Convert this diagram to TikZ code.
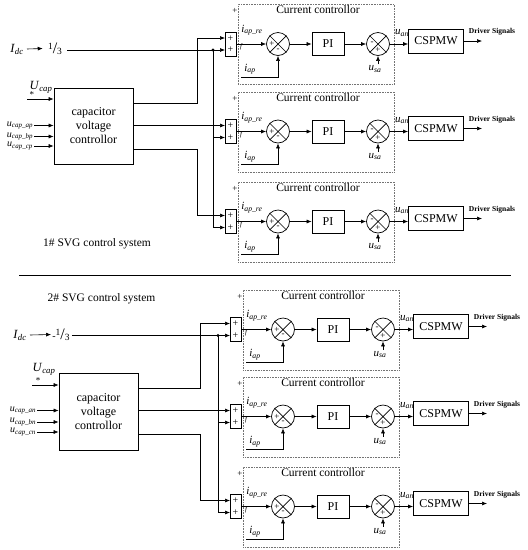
\documentclass[tikz,border=0pt]{standalone}
\usepackage{fontspec}
\setmainfont{Liberation Serif}
\usetikzlibrary{arrows.meta}
\newcommand\lab[2]{\textit{#1}\textsubscript{\textit{#2}}}
\newcommand\myThird{\raisebox{0.38em}{\fontsize{9.5}{9.5}\selectfont 1}{\fontsize{16}{16}\selectfont /}\raisebox{-0.1em}{\fontsize{9.5}{9.5}\selectfont 3}}
\tikzset{
 ar/.style={-{Latex[length=5pt,width=4pt]}},
 ccbox/.style={draw=black!55, densely dotted, line width=0.6pt, inner sep=0pt, minimum width=156pt, minimum height=80pt},
 blk/.style={draw, line width=0.7pt, inner sep=0pt},
 sumblk/.style={blk, minimum width=11pt, minimum height=24pt, align=center, font=\fontsize{10}{11.5}\selectfont},
 sj/.style={draw, circle, line width=0.7pt, minimum size=23pt, inner sep=0pt},
 pib/.style={blk, minimum width=32pt, minimum height=23pt, font=\fontsize{12}{14}\selectfont},
 csb/.style={blk, minimum width=55pt, minimum height=24pt, font=\fontsize{12}{14}\selectfont},
 capb/.style={blk, minimum width=79pt, minimum height=76pt, align=center, font=\fontsize{12}{14}\selectfont},
 ttl/.style={font=\fontsize{11.5}{13}\selectfont, inner sep=0pt},
 lbl/.style={font=\fontsize{11}{12}\selectfont, inner sep=1pt},
 slbl/.style={font=\fontsize{10}{11}\selectfont, inner sep=1pt},
 big/.style={font=\fontsize{12.5}{14}\selectfont, inner sep=1pt},
 sgn/.style={font=\fontsize{9}{10}\selectfont, inner sep=0pt},
 tinyf/.style={font=\fontsize{7}{8}\selectfont\itshape, inner sep=0pt},
 drv/.style={font=\bfseries\fontsize{7.5}{9}\selectfont, inner sep=0pt},
 sys/.style={font=\fontsize{11.5}{13}\selectfont, inner sep=0pt},
}
\newcommand\ccunit[3]{%
 \node[ccbox, anchor=north west] (#1box) at (#2,#3-40) {};
 \node[ttl] (#1title) at (#2+80,#3-34) {Current controllor};
 \node[sgn] (#1plus) at (#2-3,#3-33) {+};
 \node[sumblk] (#1sum) at (#2-7.5,#3) {+\\+};
 \coordinate (#1in1) at (#2-13,#3-6);
 \coordinate (#1in2) at (#2-13,#3+6);
 \node[sj] (#1c1) at (#2+40,#3) {};
 \draw[line width=0.7pt] (#1c1.north west) -- (#1c1.south east) (#1c1.north east) -- (#1c1.south west);
 \node[sgn] (#1c1l) at (#2+34,#3) {+};
 \node[sgn] (#1c1b) at (#2+40,#3+6) {-};
 \node[pib] (#1pi) at (#2+90,#3) {PI};
 \node[sj] (#1c2) at (#2+140,#3) {};
 \draw[line width=0.7pt] (#1c2.north west) -- (#1c2.south east) (#1c2.north east) -- (#1c2.south west);
 \node[sgn] (#1c2l) at (#2+134,#3-1) {-};
 \node[sgn] (#1c2b) at (#2+140,#3+6) {+};
 \node[csb] (#1cs) at (#2+198,#3-3) {CSPMW};
 \coordinate (#1out) at (#2+244,#3-3);
 \node[lbl] (#1ire) at (#2+14,#3-14) {\lab{i}{ap\_re}};
 \node[tinyf] (#1f) at (#2+3,#3+3) {f};
 \node[lbl] (#1iap) at (#2+12,#3+25) {\lab{i}{ap}};
 \coordinate (#1ia) at (#2+3,#3+33);
 \node[lbl] (#1usa) at (#2+137,#3+25) {\lab{u}{sa}};
 \node[lbl] (#1uan) at (#2+164,#3-11) {\lab{u}{an}};
 \node[drv] (#1drv) at (#2+254,#3-12) {Driver Signals};
 \draw[ar] (#1sum.east) -- (#1c1.west);
 \draw[ar] (#1c1.east) -- (#1pi.west);
 \draw[ar] (#1pi.east) -- (#1c2.west);
 \draw[ar] (#1c2.east) -- (#1c2.east -| #1cs.west);
 \draw[ar] (#1cs.east) -- (#1out);
 \draw[ar] (#1ia) -| (#1c1.south);
 \draw[ar] (#1usa.north -| #1c2) -- (#1c2.south);
}
\begin{document}
\begin{tikzpicture}[x=1pt,y=-1pt,line width=0.6pt]
\useasboundingbox (0,0) rectangle (528,550);
% ---------- top system ----------
\ccunit{a}{238}{44}
\ccunit{b}{238}{131.5}
\ccunit{c}{238}{221.5}
\node[capb] (capA) at (93.5,126) {capacitor\\voltage\\controllor};
\node[big] (idcA) at (17,49) {\lab{I}{dc}};
\node[inner sep=0pt] (thA) at (55,48.5) {\myThird};
\draw[ar] ([xshift=2pt]idcA.east) -- ([xshift=-5pt]thA.west);
\coordinate (dotA) at (213,50);
\draw[ar] ([xshift=5pt]thA.east |- ain2) -- (ain2);
\fill (dotA) circle (1.7pt);
\draw[ar] (dotA) |- (bin2);
\draw[ar] (dotA) |- (cin2);
\coordinate (ka1) at (197,103);
\coordinate (ka3) at (197,149);
\draw[ar] (capA.east |- ka1) -- (ka1) |- (ain1);
\draw[ar] (capA.east |- bin1) -- (bin1);
\draw[ar] (capA.east |- ka3) -- (ka3) |- (cin1);
\node[big] (ucA) at (41,87) {\lab{U}{cap}};
\node[sgn] (stA) at (32,95) {*};
\coordinate (usA) at (27,99);
\draw[ar] (usA) -- (usA -| capA.west);
\node[slbl] (uaA) at (20,125.5) {\lab{u}{cap\_ap}};
\node[slbl] (ubA) at (20,136.5) {\lab{u}{cap\_bp}};
\node[slbl] (ucpA) at (20,146) {\lab{u}{cap\_cp}};
\draw[ar] (uaA.east) -- (uaA.east -| capA.west);
\draw[ar] (ubA.east) -- (ubA.east -| capA.west);
\draw[ar] (ucpA.east) -- (ucpA.east -| capA.west);
\node[sys] (sys1) at (97,244) {1\# SVG control system};
% ---------- separator ----------
\coordinate (sepL) at (19,275);
\coordinate (sepR) at (511,275);
\draw[line width=0.8pt] (sepL) -- (sepR);
% ---------- bottom system ----------
\node[sys] (sys2) at (101.5,299) {2\# SVG control system};
\ccunit{d}{243}{329.5}
\ccunit{e}{243}{416.5}
\ccunit{f}{243}{506.5}
\node[capb, minimum height=77pt] (capB) at (98.5,411.5) {capacitor\\voltage\\controllor};
\node[big] (idcB) at (20,335) {\lab{I}{dc}};
\node[inner sep=0pt] (thB) at (61,334.5) {-\myThird};
\draw[ar] ([xshift=2pt]idcB.east) -- ([xshift=-1pt]thB.west);
\coordinate (dotB) at (218,335.5);
\draw[ar] ([xshift=2pt]thB.east |- din2) -- (din2);
\fill (dotB) circle (1.7pt);
\draw[ar] (dotB) |- (ein2);
\draw[ar] (dotB) |- (fin2);
\coordinate (kb1) at (200,388);
\coordinate (kb3) at (200,434);
\draw[ar] (capB.east |- kb1) -- (kb1) |- (din1);
\draw[ar] (capB.east |- ein1) -- (ein1);
\draw[ar] (capB.east |- kb3) -- (kb3) |- (fin1);
\node[big] (ucB) at (44,369) {\lab{U}{cap}};
\node[sgn] (stB) at (38,381) {*};
\coordinate (usB) at (32,385);
\draw[ar] (usB) -- (usB -| capB.west);
\node[slbl] (uaB) at (23,410.5) {\lab{u}{cap\_an}};
\node[slbl] (ubB) at (23,422) {\lab{u}{cap\_bn}};
\node[slbl] (ucnB) at (23,432) {\lab{u}{cap\_cn}};
\draw[ar] (uaB.east) -- (uaB.east -| capB.west);
\draw[ar] (ubB.east) -- (ubB.east -| capB.west);
\draw[ar] (ucnB.east) -- (ucnB.east -| capB.west);
\end{tikzpicture}
\end{document}
